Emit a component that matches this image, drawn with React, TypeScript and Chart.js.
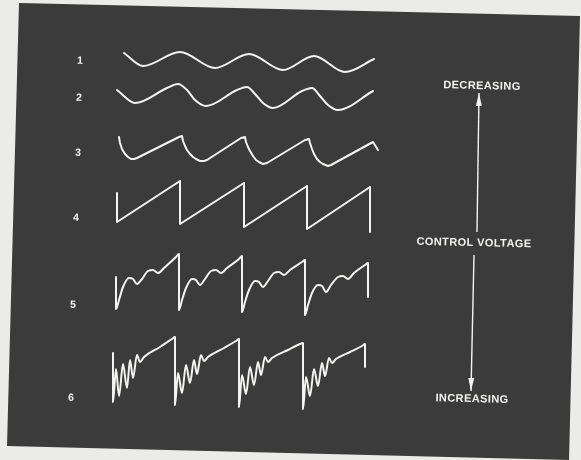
import { useEffect, useRef } from "react";
import { Chart, registerables } from "chart.js";

Chart.register(...registerables);

// ---- Waveform series (time t, level v) ----
const W1_T = [124, 143, 180, 215, 249, 283, 314, 345, 374];
const W1_V = [53, 66, 52, 68, 54, 70, 56, 72, 59];

const W2_T = [117, 135, 167, 178, 187, 195, 206, 237, 247, 255, 263, 273, 302, 312, 320, 328, 338, 373];
const W2_V = [90, 103, 88, 84, 90, 100, 106, 90, 87, 94, 103, 108, 91, 88, 96, 105, 110, 91];

const W3_T = [119, 120, 122, 125, 128, 131, 134, 137, 179, 182, 183, 185, 187, 190, 193, 196, 200, 204, 207, 241, 245, 246, 248, 250, 253, 256, 259, 263, 267, 305, 309, 310, 312, 314, 317, 320, 323, 328, 331, 373, 378];
const W3_V = [137, 143, 149, 154, 157, 159, 159, 158, 137, 136, 141, 146, 150, 154, 157, 159, 161, 161, 160, 138, 137, 142, 147, 151, 156, 160, 162, 164, 163, 140, 139, 143, 149, 154, 159, 162, 164, 166, 165, 142, 150];

const W4_T = [117, 117, 180, 180, 244, 244, 307, 307, 370, 370];
const W4_V = [193, 222, 181, 224, 183, 227, 186, 229, 187, 232];

const W5_T = [
  116, 116, 119, 123, 129, 133, 137, 142, 148, 153, 158, 164, 176, 179,
  179, 182, 186, 192, 196, 200, 205, 211, 216, 221, 227, 239, 242,
  242, 245, 249, 255, 259, 263, 268, 274, 279, 284, 290, 302, 305,
  305, 308, 312, 318, 322, 326, 331, 338, 343, 348, 354, 365, 368, 368,
];
const W5_V = [
  277, 309, 300, 287, 278, 279, 284, 279, 271, 270, 273, 268, 257, 254,
  310, 300, 288, 279, 280, 285, 279, 271, 270, 273, 268, 259, 256,
  312, 302, 290, 281, 282, 287, 281, 273, 272, 275, 270, 262, 260,
  315, 305, 293, 285, 286, 292, 285, 277, 276, 279, 273, 265, 263, 297,
];

const W6_T = [
  113, 113, 116, 119, 123, 127, 130, 133, 137, 140, 144, 160, 172, 175,
  175, 178, 182, 186, 190, 194, 197, 201, 204, 208, 224, 236, 239,
  239, 242, 246, 250, 254, 258, 261, 265, 268, 272, 288, 300, 303,
  303, 306, 310, 314, 318, 322, 325, 329, 332, 336, 350, 362, 365, 365,
];
const W6_V = [
  353, 402, 369, 396, 364, 388, 360, 378, 355, 362, 357, 347, 339, 337,
  405, 373, 393, 365, 383, 360, 374, 355, 361, 357, 348, 341, 339,
  407, 375, 394, 367, 385, 362, 375, 357, 362, 358, 350, 344, 343,
  409, 377, 396, 369, 386, 363, 376, 358, 363, 359, 352, 346, 344, 367,
];

const WAVES_T = [W1_T, W2_T, W3_T, W4_T, W5_T, W6_T];
const WAVES_V = [W1_V, W2_V, W3_V, W4_V, W5_V, W6_V];
const WAVE_SMOOTH = [true, true, false, false, true, true];

// ---- Labels ----
const ROW_LABELS = ["1", "2", "3", "4", "5", "6"];
const ROW_LABEL_T = [80, 79, 78, 76, 73, 71];
const ROW_LABEL_V = [61, 98, 153, 218, 305, 398];

const SIDE_LABELS = ["DECREASING", "CONTROL VOLTAGE", "INCREASING"];
const SIDE_T = [482, 474, 472];
const SIDE_V = [86, 243, 399];

// arrows: [from, to(tip)]
const ARROW_UP_T = [477, 479];
const ARROW_UP_V = [232, 93];
const ARROW_DN_T = [474, 471];
const ARROW_DN_V = [255, 391];

const INK = "#f3f3f1";
const PANEL = "#3b3b3b";
const PAPER = "#ebebe9";
const TILT = 0.022;

const panelPlugin = {
  id: "panel",
  beforeDraw(chart: any) {
    const { ctx, width, height } = chart;
    ctx.save();
    ctx.fillStyle = PAPER;
    ctx.fillRect(0, 0, width, height);
    ctx.fillStyle = PANEL;
    ctx.beginPath();
    ctx.moveTo(19, 3);
    ctx.lineTo(580, 16);
    ctx.lineTo(569, 460);
    ctx.lineTo(7, 446);
    ctx.closePath();
    ctx.fill();
    ctx.restore();
  },
};

const annotPlugin = {
  id: "annot",
  afterDatasetsDraw(chart: any) {
    const { ctx } = chart;
    const sx = chart.scales.x;
    const sy = chart.scales.y;
    ctx.save();
    ctx.fillStyle = INK;
    const head = (ft: number, fv: number, tt: number, tv: number) => {
      const fx = sx.getPixelForValue(ft);
      const fy = sy.getPixelForValue(fv);
      const tx = sx.getPixelForValue(tt);
      const ty = sy.getPixelForValue(tv);
      const dx = tx - fx;
      const dy = ty - fy;
      const len = Math.hypot(dx, dy);
      const ux = dx / len;
      const uy = dy / len;
      const L = 13;
      const H = 3;
      const bx = tx - ux * L;
      const by = ty - uy * L;
      ctx.beginPath();
      ctx.moveTo(tx, ty);
      ctx.lineTo(bx - uy * H, by + ux * H);
      ctx.lineTo(bx + uy * H, by - ux * H);
      ctx.closePath();
      ctx.fill();
    };
    head(ARROW_UP_T[0], ARROW_UP_V[0], ARROW_UP_T[1], ARROW_UP_V[1]);
    head(ARROW_DN_T[0], ARROW_DN_V[0], ARROW_DN_T[1], ARROW_DN_V[1]);

    ctx.textAlign = "center";
    ctx.textBaseline = "middle";
    const draw = (txt: string, t: number, v: number, font: string, sp: string) => {
      ctx.save();
      ctx.translate(sx.getPixelForValue(t), sy.getPixelForValue(v));
      ctx.rotate(TILT);
      ctx.font = font;
      try {
        (ctx as any).letterSpacing = sp;
      } catch (e) {}
      ctx.fillText(txt, 0, 0);
      ctx.restore();
    };
    ROW_LABELS.forEach((l, i) =>
      draw(l, ROW_LABEL_T[i], ROW_LABEL_V[i], 'bold 10.5px "Liberation Sans", Arial, sans-serif', "0px")
    );
    SIDE_LABELS.forEach((l, i) =>
      draw(l, SIDE_T[i], SIDE_V[i], 'bold 11px "Liberation Sans", Arial, sans-serif', "0.4px")
    );
    ctx.restore();
  },
};

export default function App() {
  const ref = useRef<HTMLCanvasElement | null>(null);

  useEffect(() => {
    if (!ref.current) return;
    const waveSets = WAVES_T.map((ts, w) => ({
      data: ts.map((t, i) => ({ x: t, y: WAVES_V[w][i] })),
      showLine: true,
      borderColor: INK,
      borderWidth: 2,
      pointRadius: 0,
      fill: false,
      tension: WAVE_SMOOTH[w] ? 0.4 : 0,
      cubicInterpolationMode: WAVE_SMOOTH[w] ? "monotone" : "default",
      borderJoinStyle: "round",
      borderCapStyle: "round",
    }));
    const arrowSets = [
      [ARROW_UP_T, ARROW_UP_V],
      [ARROW_DN_T, ARROW_DN_V],
    ].map(([ts, vs]) => ({
      data: ts.map((t, i) => ({ x: t, y: vs[i] })),
      showLine: true,
      borderColor: INK,
      borderWidth: 1.4,
      pointRadius: 0,
      fill: false,
      tension: 0,
    }));

    const chart = new Chart(ref.current, {
      type: "scatter",
      data: { datasets: [...waveSets, ...arrowSets] as any },
      options: {
        animation: false,
        responsive: true,
        maintainAspectRatio: false,
        events: [],
        layout: { padding: 0 },
        plugins: {
          legend: { display: false },
          tooltip: { enabled: false },
        },
        scales: {
          x: { type: "linear", min: 0, max: 581, display: false },
          y: { type: "linear", min: 0, max: 460, reverse: true, display: false },
        },
      },
      plugins: [panelPlugin, annotPlugin],
    });
    return () => chart.destroy();
  }, []);

  return (
    <div style={{ position: "absolute", left: 0, top: 0, width: 581, height: 460 }}>
      <canvas ref={ref} />
    </div>
  );
}
